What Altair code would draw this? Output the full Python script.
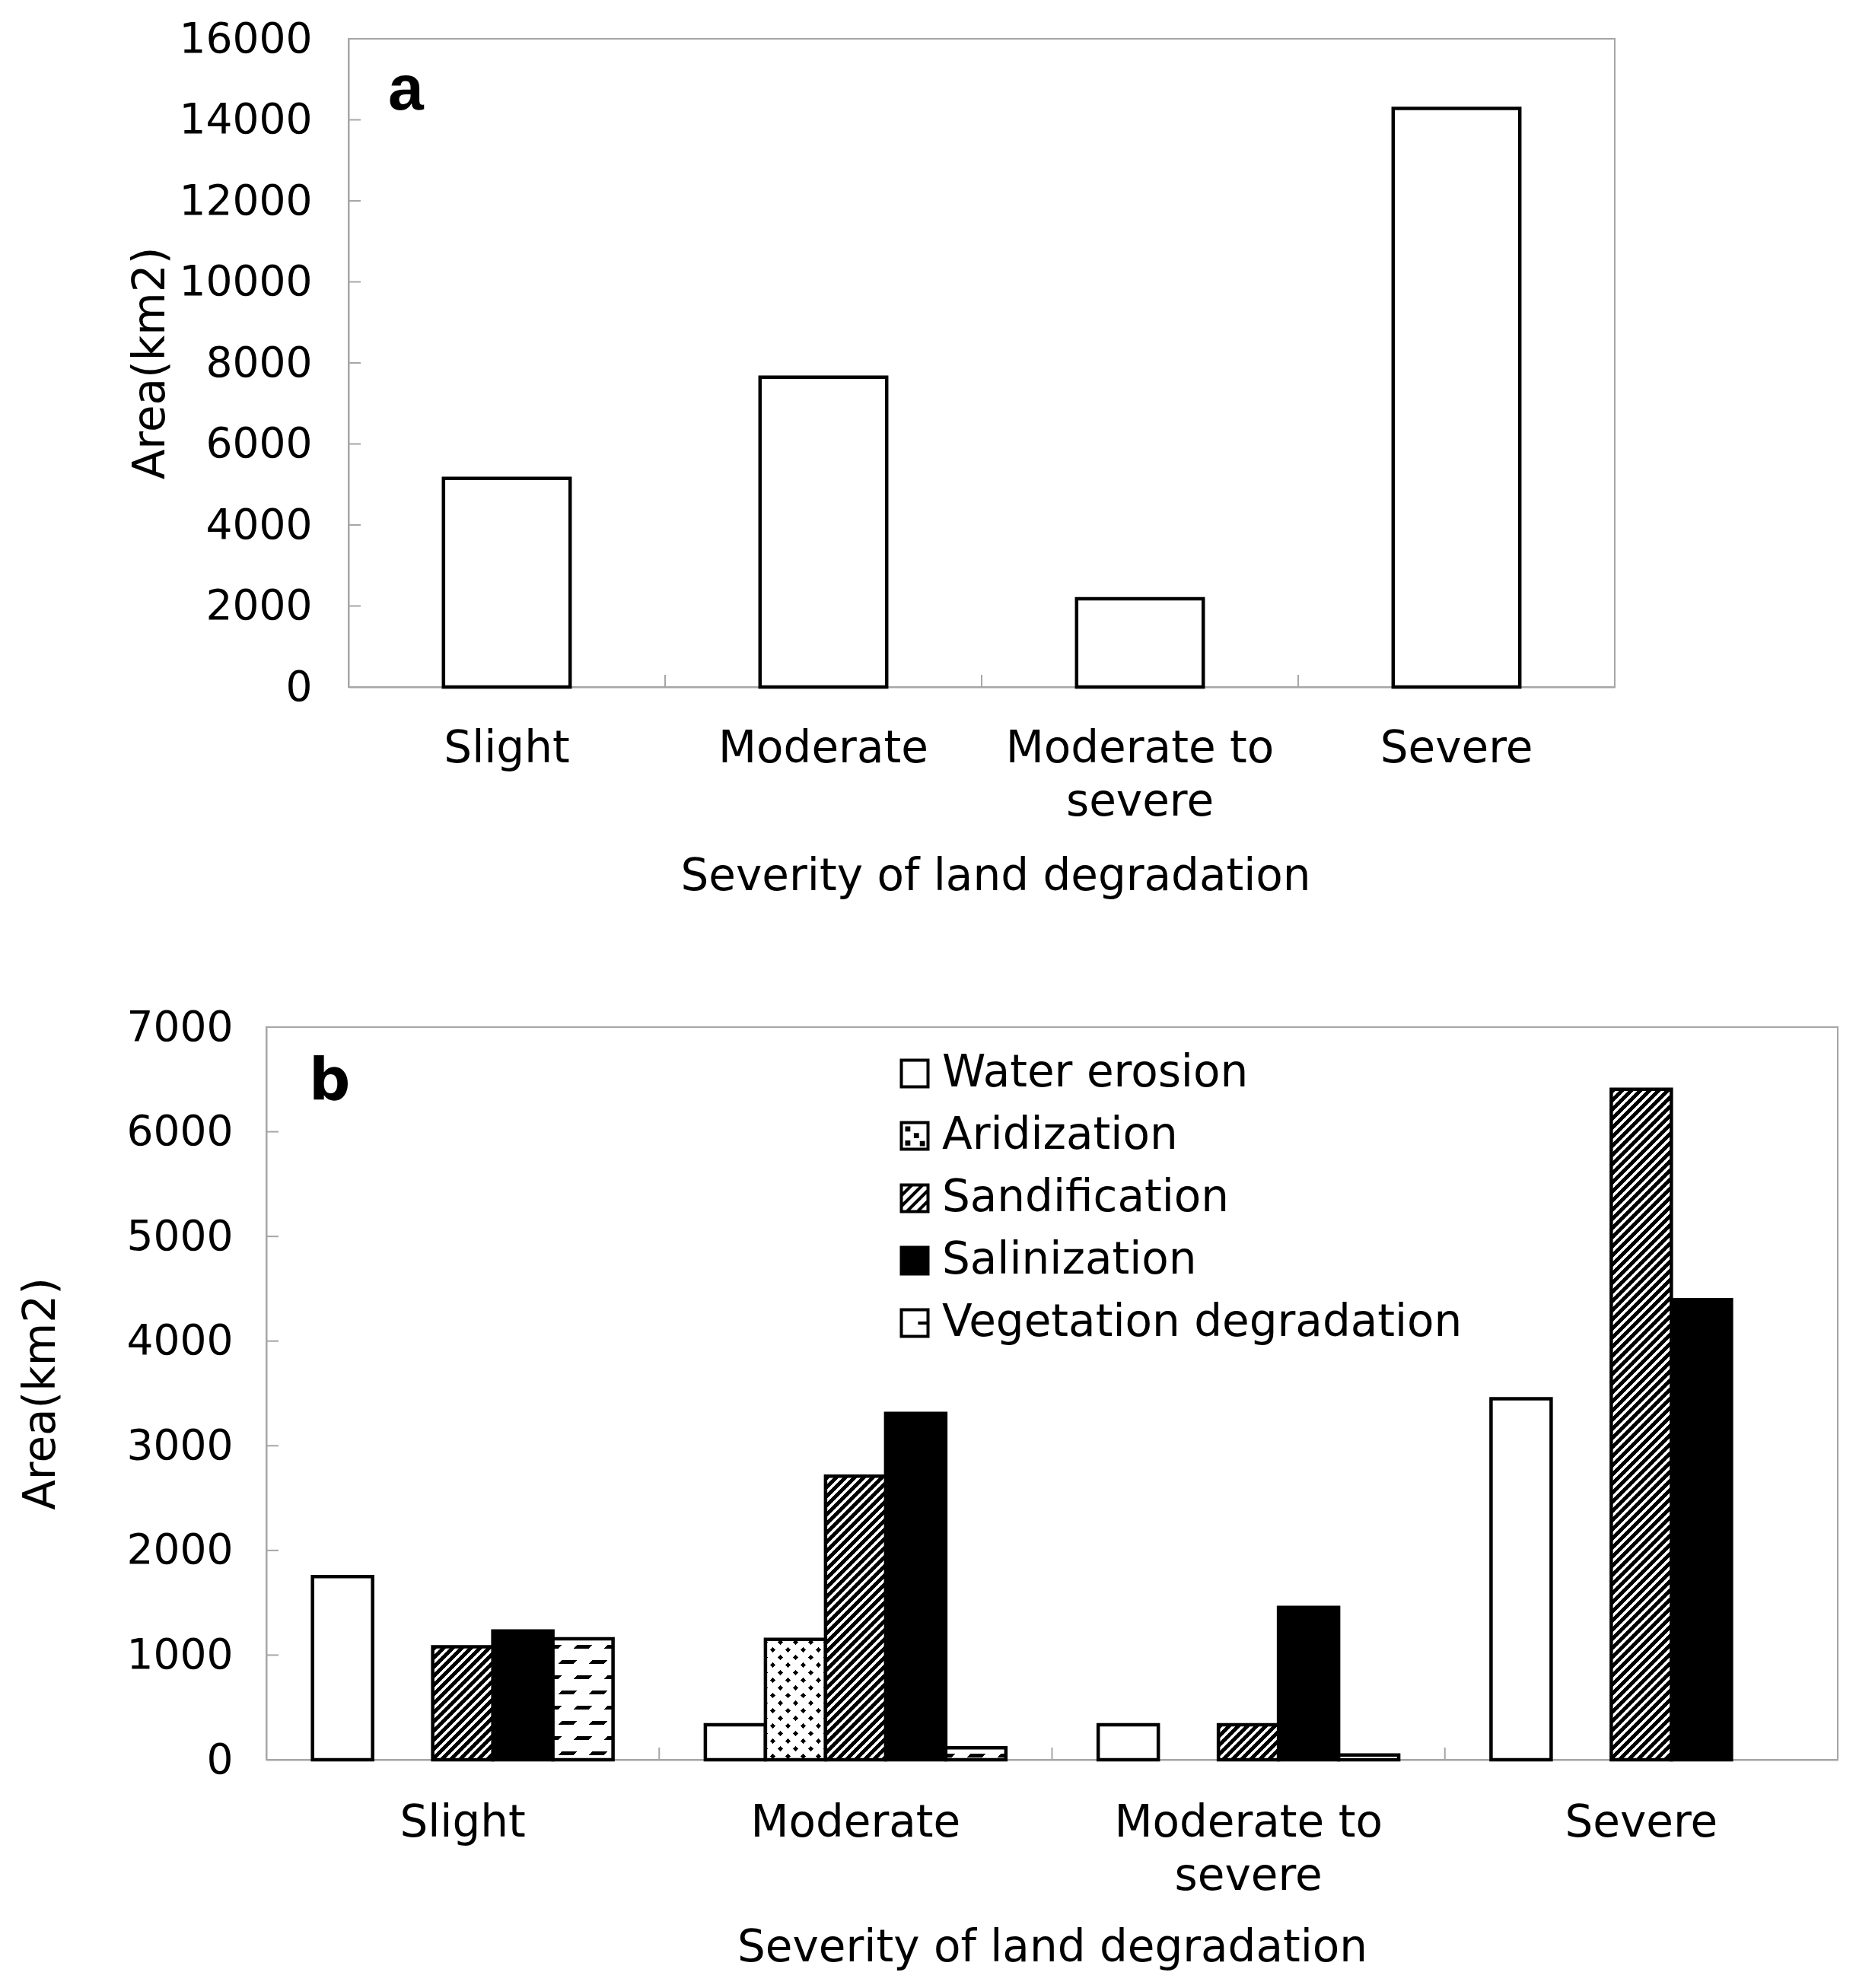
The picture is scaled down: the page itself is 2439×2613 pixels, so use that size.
import math
import altair as alt
import pandas as pd

# ---------------- data ----------------
categories = ["Slight", "Moderate", "Moderate to severe", "Severe"]
total_area = [5150, 7650, 2180, 14280]

series = ["Water erosion", "Aridization", "Sandification", "Salinization", "Vegetation degradation"]
water_erosion = [1750, 335, 335, 3450]
aridization = [0, 1150, 0, 0]
sandification = [1080, 2710, 335, 6405]
salinization = [1230, 3310, 1455, 4395]
vegetation_degradation = [1155, 115, 45, 0]

ticks_a = [0, 2000, 4000, 6000, 8000, 10000, 12000, 14000, 16000]
ticks_b = [0, 1000, 2000, 3000, 4000, 5000, 6000, 7000]
boundaries = [1, 2, 3]          # category boundaries (in category steps)
x_title = "Severity of land degradation"
y_title = "Area(km2)"

# ---------------- style / layout ----------------
FONT = "DejaVu Sans"
GRAY = "#a6a6a6"
WA, HA = 1664, 852
WB, HB = 2065, 963
PI_A, PI_B = 0.6, 0.235
TICK = 16
SW = 4.5
SA, SB = 154, 10

label_expr = "datum.label == 'Moderate to severe' ? ['Moderate to', 'severe'] : datum.label"


def x_enc(pi, label_pad, title_pad, title_x):
    return alt.X(
        "cat:N",
        scale=alt.Scale(domain=categories, paddingInner=pi, paddingOuter=pi / 2),
        axis=alt.Axis(labelAngle=0, labelFontSize=58, labelPadding=label_pad, labelLineHeight=70,
                      labelExpr=label_expr, labelLimit=1000, labelOverlap=False,
                      titleFontSize=58, titlePadding=title_pad, titleX=title_x),
        title=x_title)


def y_enc(top, ticks, label_pad, title_pad):
    return alt.Y(
        "area:Q",
        scale=alt.Scale(domain=[0, top], nice=False),
        axis=alt.Axis(values=ticks, format="d", labelFontSize=55, labelPadding=label_pad,
                      labelLimit=1000, titleFontSize=58, titlePadding=title_pad),
        title=y_title)


def inner_ticks(ticks, y, height):
    yt = alt.Chart(pd.DataFrame({"area": ticks[1:-1]})).mark_rule(color=GRAY, strokeWidth=2).encode(
        y=y, x=alt.value(0), x2=alt.value(TICK))
    xt = alt.Chart(pd.DataFrame({"pos": boundaries})).mark_rule(color=GRAY, strokeWidth=2).encode(
        x=alt.X("pos:Q", scale=alt.Scale(domain=[0, 4], nice=False, zero=False), axis=None),
        y=alt.value(height), y2=alt.value(height - TICK))
    return yt, xt


def panel_letter(letter, font, size, px, py):
    return alt.Chart(pd.DataFrame({"t": [letter]})).mark_text(
        font=font, fontSize=size, fontWeight="bold", color="black", align="left",
        baseline="alphabetic").encode(text="t:N", x=alt.value(px), y=alt.value(py))


# ---------------- stripe gradients (pattern fills) ----------------
def stripe_stops(C, P, D, phase, on, off):
    edges = []
    k = math.floor(-phase / P) - 1
    while True:
        s = phase + k * P
        if s > C:
            break
        edges.append((s, on))
        edges.append((s + D, off))
        k += 1
    col0 = off
    for pos, col in edges:
        if pos <= 0:
            col0 = col
    stops = [(0.0, col0)]
    cur = col0
    for pos, col in edges:
        if 0 < pos < C:
            stops.append((pos / C, cur))
            stops.append((pos / C, col))
            cur = col
    stops.append((1.0, cur))
    return [alt.GradientStop(offset=round(o, 6), color=c) for o, c in stops]


def stripes(kind, w, h, P, D, phase, on, off):
    if kind == "fwd":      # lines x + y = c  ("/")
        C = w + h
        den = w * w + h * h
        x1, y1, x2, y2 = 0, 0, w * C / den, h * C / den
    elif kind == "back":   # lines (w - x) + y = c  ("\")
        C = w + h
        den = w * w + h * h
        x1, y1, x2, y2 = 1, 0, 1 - w * C / den, h * C / den
    else:                  # horizontal rows
        C = h
        x1, y1, x2, y2 = 0, 0, 0, 1
    return alt.LinearGradient(gradient="linear", stops=stripe_stops(C, P, D, phase, on, off),
                              x1=x1, y1=y1, x2=x2, y2=y2)


CLEAR = "rgba(255,255,255,0)"

# ---------------- panel a ----------------
xa = x_enc(PI_A, 52, 40, WA / 2 + 18)
ya = y_enc(16000, ticks_a, 48, 31)

df_a = pd.DataFrame({"cat": categories, "area": total_area})
bars_a = alt.Chart(df_a).mark_bar(fill="white", stroke="black", strokeWidth=4.5).encode(x=xa, y=ya)
yt_a, xt_a = inner_ticks(ticks_a, ya, HA)

panel_a = alt.layer(
    alt.layer(bars_a, yt_a, panel_letter("a", "Liberation Sans", 84, 52, 93)),
    xt_a,
).resolve_scale(x="independent").properties(width=WA, height=HA)

# ---------------- panel b ----------------
xb = x_enc(PI_B, 54, 36, WB / 2)
yb = y_enc(7000, ticks_b, 44, 83)
xo = alt.XOffset("series:N", scale=alt.Scale(domain=series, paddingInner=0, paddingOuter=0))

rows = []
for s, vals in zip(series, [water_erosion, aridization, sandification, salinization, vegetation_degradation]):
    for c, v in zip(categories, vals):
        rows.append({"cat": c, "series": s, "area": v})
df_b = pd.DataFrame(rows)

layers_b = []
layers_b.append(alt.Chart(df_b[df_b.series == "Water erosion"]).mark_bar(
    fill="white", stroke="black", strokeWidth=SW).encode(x=xb, xOffset=xo, y=yb))
layers_b.append(alt.Chart(df_b[df_b.series == "Salinization"]).mark_bar(
    fill="black", stroke="black", strokeWidth=SW).encode(x=xb, xOffset=xo, y=yb))

bw = (WB / 4) * (1 - PI_B) / 5
for _, r in df_b.iterrows():
    if r.area <= 0 or r.series in ("Water erosion", "Salinization"):
        continue
    h = r.area / 7000 * HB
    base = alt.Chart(pd.DataFrame([r]))
    if r.series == "Sandification":
        layers_b.append(base.mark_bar(fill=stripes("fwd", bw, h, 12, 7, 0, "black", "white"),
                                      stroke="black", strokeWidth=SW).encode(x=xb, xOffset=xo, y=yb))
    elif r.series == "Aridization":
        layers_b.append(base.mark_bar(fill=stripes("back", bw, h, 20, 7, 0, "black", "white")).encode(
            x=xb, xOffset=xo, y=yb))
        layers_b.append(base.mark_bar(fill=stripes("fwd", bw, h, 20, 7, 0, CLEAR, "white"),
                                      stroke="black", strokeWidth=SW).encode(x=xb, xOffset=xo, y=yb))
    elif r.series == "Vegetation degradation":
        layers_b.append(base.mark_bar(fill=stripes("fwd", bw, h, 40, 20, 0, "black", "white")).encode(
            x=xb, xOffset=xo, y=yb))
        layers_b.append(base.mark_bar(fill=stripes("rows", bw, h, 20, 5, 8, CLEAR, "white"),
                                      stroke="black", strokeWidth=SW).encode(x=xb, xOffset=xo, y=yb))

yt_b, xt_b = inner_ticks(ticks_b, yb, HB)
layers_b.append(yt_b)
layers_b.append(panel_letter("b", FONT, 76, 56, 95))

# legend (pattern symbols as custom paths)
sq = "M-1,-1H1V1H-1Z"
dots = "".join("M%.2f,%.2fh0.16v0.16h-0.16Z" % (x, y) for x, y in [(-0.6, -0.6), (0.05, -0.1), (-0.6, 0.45), (0.5, 0.5)])
hatch = "M-1,-0.2L-0.2,-1M-1,0.6L0.6,-1M-0.6,1L1,-0.6M0.2,1L1,0.2"
leg_paths = [sq, sq + dots, sq + hatch, sq, sq + "M0.25,0H1"]
leg_fills = ["white", "white", "white", "black", "white"]
legend_obj = alt.Legend(orient="none", legendX=823, legendY=32, labelFont=FONT, labelFontSize=58,
                        labelColor="black", labelLimit=1000, labelOffset=7, rowPadding=24, padding=0,
                        symbolSize=1225, symbolOpacity=1, symbolStrokeWidth=4, direction="vertical")
layers_b.append(alt.Chart(pd.DataFrame({"series": series})).mark_point(
    filled=True, size=0, stroke="black", strokeWidth=4).encode(
    fill=alt.Fill("series:N", scale=alt.Scale(domain=series, range=leg_fills), legend=legend_obj, title=None),
    shape=alt.Shape("series:N", scale=alt.Scale(domain=series, range=leg_paths), legend=legend_obj, title=None)))

panel_b = alt.layer(
    alt.layer(*layers_b),
    xt_b,
).resolve_scale(x="independent").properties(width=WB, height=HB)


def spacer(w):
    return alt.Chart(pd.DataFrame({"z": [0]})).mark_point(size=0).properties(
        width=w, height=1, view=alt.ViewBackground(stroke="white", strokeWidth=1))


chart = alt.vconcat(
    alt.hconcat(spacer(SA), panel_a, spacing=0),
    alt.hconcat(spacer(SB), panel_b, spacing=0).resolve_legend(fill="independent", shape="independent"),
    spacing=140,
).resolve_legend(
    fill="independent", shape="independent"
).properties(
    padding={"left": 4, "top": 15, "right": 5, "bottom": 5}
).configure_view(
    stroke=GRAY, strokeWidth=2
).configure_axis(
    labelFont=FONT, titleFont=FONT, labelColor="black", titleColor="black",
    domainColor=GRAY, domainWidth=2, ticks=False, tickSize=0, grid=False, titleFontWeight="normal"
)

chart.save("out.html", embed_options={"renderer": "svg", "actions": False})
